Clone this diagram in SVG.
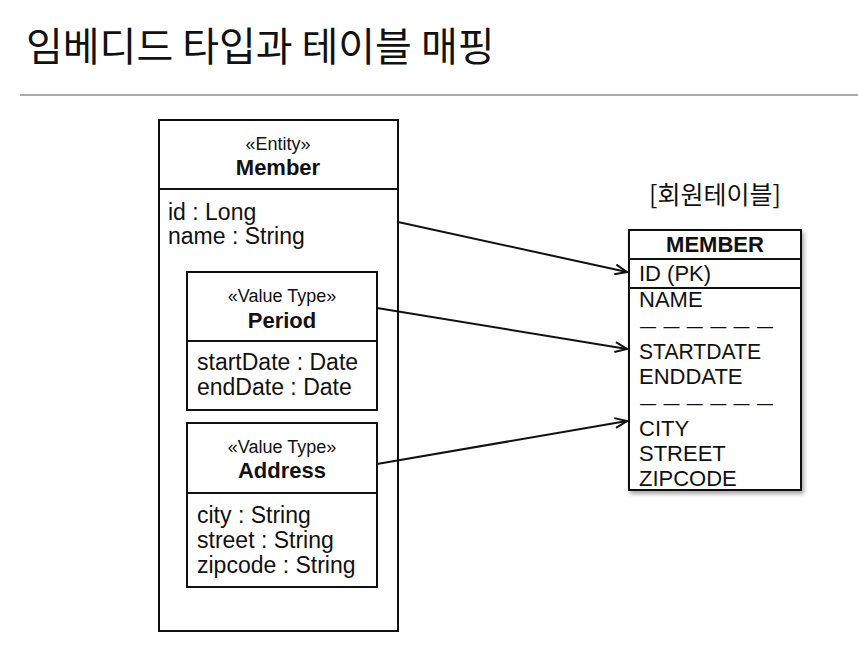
<svg xmlns="http://www.w3.org/2000/svg" width="858" height="655" viewBox="0 0 858 655">
<defs>
<style>
text{font-family:"Liberation Sans","Noto Sans CJK KR",sans-serif;fill:#111}
.box{fill:#fff;stroke:#111;stroke-width:2}
.ln{stroke:#111;stroke-width:2;fill:none}
.st{font-size:18px;text-anchor:middle}
.nm{font-size:22px;font-weight:bold;text-anchor:middle}
.at{font-size:23px}
.tb{font-size:22px}
.ds{font-size:16px}
.kr{font-family:"Noto Sans CJK KR","Liberation Sans",sans-serif}
.conn{stroke:#111;stroke-width:2;fill:none;marker-end:url(#arr)}
</style>
<marker id="arr" viewBox="0 0 14 12" refX="13" refY="6" markerWidth="14" markerHeight="12" markerUnits="userSpaceOnUse" orient="auto">
<path d="M1,1 L13,6 L1,11" fill="none" stroke="#111" stroke-width="2"/>
</marker>
<filter id="sh" x="-10%" y="-10%" width="130%" height="130%">
<feDropShadow dx="2" dy="3" stdDeviation="2" flood-color="#000" flood-opacity="0.35"/>
</filter>
</defs>
<rect width="858" height="655" fill="#fff"/>
<text class="kr" x="26" y="61" font-size="40">임베디드 타입과 테이블 매핑</text>
<line x1="20" y1="95" x2="858" y2="95" stroke="#aaa" stroke-width="2"/>

<g id="member">
<rect class="box" x="159" y="120" width="239" height="511"/>
<line class="ln" x1="159" y1="189" x2="398" y2="189"/>
<text class="st" x="278" y="150">«Entity»</text>
<text class="nm" x="278" y="175">Member</text>
<text class="at" x="168" y="220">id : Long</text>
<text class="at" x="168" y="244">name : String</text>
</g>

<g id="period">
<rect class="box" x="187" y="272" width="190" height="138"/>
<line class="ln" x1="187" y1="341" x2="377" y2="341"/>
<text class="st" x="282" y="302">«Value Type»</text>
<text class="nm" x="282" y="328">Period</text>
<text class="at" x="197" y="370">startDate : Date</text>
<text class="at" x="197" y="395">endDate : Date</text>
</g>

<g id="address">
<rect class="box" x="187" y="423" width="190" height="164"/>
<line class="ln" x1="187" y1="493" x2="377" y2="493"/>
<text class="st" x="282" y="453">«Value Type»</text>
<text class="nm" x="282" y="478">Address</text>
<text class="at" x="197" y="523">city : String</text>
<text class="at" x="197" y="548">street : String</text>
<text class="at" x="197" y="573">zipcode : String</text>
</g>

<g id="table">
<text class="kr" x="715" y="204" font-size="25" text-anchor="middle">[회원테이블]</text>
<rect class="box" x="629" y="230" width="172" height="260" filter="url(#sh)"/>
<line class="ln" x1="629" y1="259" x2="801" y2="259"/>
<line class="ln" x1="629" y1="288" x2="801" y2="288"/>
<text class="nm" x="715" y="252">MEMBER</text>
<text class="tb" x="639" y="281">ID (PK)</text>
<text class="tb" x="639" y="307">NAME</text>
<text class="ds" x="640" y="332" textLength="133" lengthAdjust="spacing">— — — — — —</text>
<text class="tb" x="639" y="359" textLength="122" lengthAdjust="spacingAndGlyphs">STARTDATE</text>
<text class="tb" x="639" y="384">ENDDATE</text>
<text class="ds" x="640" y="409" textLength="133" lengthAdjust="spacing">— — — — — —</text>
<text class="tb" x="639" y="436">CITY</text>
<text class="tb" x="639" y="461">STREET</text>
<text class="tb" x="639" y="486">ZIPCODE</text>
</g>

<g id="connectors">
<line class="conn" x1="398" y1="222" x2="627" y2="272"/>
<line class="conn" x1="377" y1="308" x2="627" y2="349"/>
<line class="conn" x1="377" y1="464" x2="627" y2="421"/>
</g>
</svg>
